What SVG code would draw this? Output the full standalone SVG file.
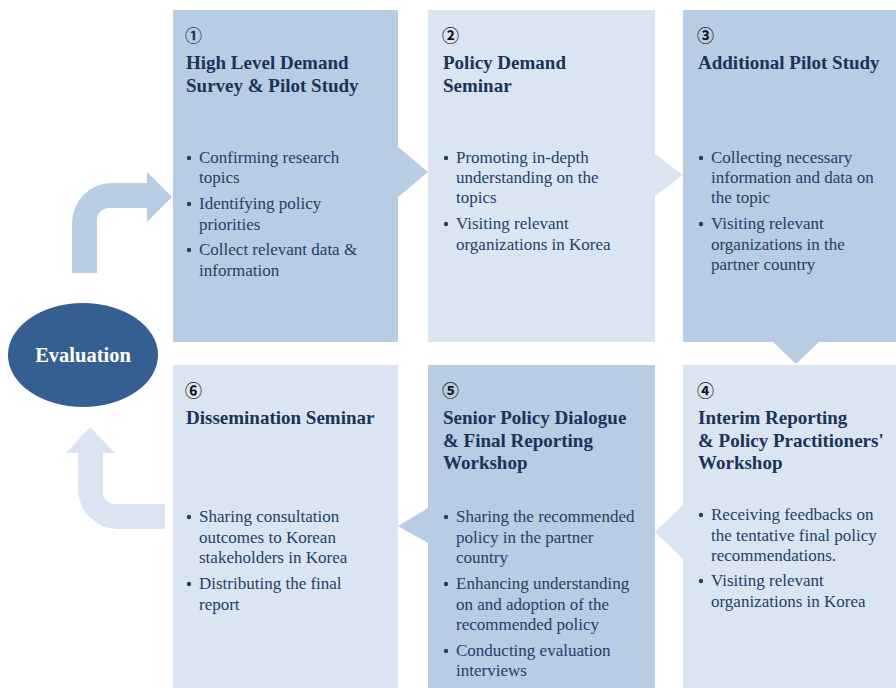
<svg xmlns="http://www.w3.org/2000/svg" width="896" height="688" viewBox="0 0 896 688">
<defs>
<style>
.dark{fill:#b8cce4}
.light{fill:#dbe5f1}
.num{font-family:"Noto Sans CJK KR","Noto Sans CJK JP",sans-serif;font-size:17px;font-weight:bold;fill:#111}
.title{font-family:"Liberation Serif",serif;font-size:19px;font-weight:bold;fill:#1b3356}
.body{font-family:"Liberation Serif",serif;font-size:17px;fill:#243f66}
.bul{fill:#243f66}
.eval{font-family:"Liberation Serif",serif;font-size:20.5px;font-weight:bold;fill:#ffffff}
</style>
</defs>
<rect width="896" height="688" fill="#ffffff"/>
<g id="connectors">
<path class="dark" d="M72,273 V223 A40,40 0 0 1 112,183 H147 V172 L172,197 L147,222 V208 H109 A12,12 0 0 0 97,220 V273 Z"/>
<path class="light" d="M90,427 L115,453 H103 V492 A12,12 0 0 0 115,504 H165 V529 H118 A40,40 0 0 1 78,489 V453 H66 Z"/>
<polygon class="dark" points="397,146 428,172 397,198"/>
<polygon class="light" points="655,154 683,175 655,196"/>
<polygon class="dark" points="773,342 796,364 819,342"/>
<polygon class="light" points="683,505 655,532 683,559"/>
<polygon class="dark" points="428,508 398,526 428,543"/>
</g>
<g id="evaluation">
<ellipse cx="83" cy="355" rx="75" ry="52" fill="#365f91"/>
<text class="eval" x="83" y="362" text-anchor="middle">Evaluation</text>
</g>
<g id="step1">
<rect class="dark" x="173" y="10" width="225" height="332"/>
<text class="num" x="185" y="42" style="fill:#1b3356">①</text>
<text class="title" x="186" y="69">High Level Demand</text>
<text class="title" x="186" y="92">Survey &amp; Pilot Study</text>
<circle class="bul" cx="189" cy="158" r="2.2"/>
<text class="body" x="199" y="163">Confirming research</text>
<text class="body" x="199" y="183">topics</text>
<circle class="bul" cx="189" cy="204" r="2.2"/>
<text class="body" x="199" y="209">Identifying policy</text>
<text class="body" x="199" y="230">priorities</text>
<circle class="bul" cx="189" cy="250" r="2.2"/>
<text class="body" x="199" y="255">Collect relevant data &amp;</text>
<text class="body" x="199" y="276">information</text>
</g>
<g id="step2">
<rect class="light" x="428" y="10" width="227" height="332"/>
<text class="num" x="442" y="42">②</text>
<text class="title" x="443" y="69">Policy Demand</text>
<text class="title" x="443" y="92">Seminar</text>
<circle class="bul" cx="446" cy="158" r="2.2"/>
<text class="body" x="456" y="163">Promoting in-depth</text>
<text class="body" x="456" y="183">understanding on the</text>
<text class="body" x="456" y="203">topics</text>
<circle class="bul" cx="446" cy="224" r="2.2"/>
<text class="body" x="456" y="229">Visiting relevant</text>
<text class="body" x="456" y="250">organizations in Korea</text>
</g>
<g id="step3">
<rect class="dark" x="683" y="10" width="213" height="332"/>
<text class="num" x="697" y="42">③</text>
<text class="title" x="698" y="69">Additional Pilot Study</text>
<circle class="bul" cx="701" cy="158" r="2.2"/>
<text class="body" x="711" y="163">Collecting necessary</text>
<text class="body" x="711" y="183">information and data on</text>
<text class="body" x="711" y="203">the topic</text>
<circle class="bul" cx="701" cy="224" r="2.2"/>
<text class="body" x="711" y="229">Visiting relevant</text>
<text class="body" x="711" y="250">organizations in the</text>
<text class="body" x="711" y="270">partner country</text>
</g>
<g id="step4">
<rect class="light" x="683" y="365" width="213" height="323"/>
<text class="num" x="697" y="397">④</text>
<text class="title" x="698" y="424">Interim Reporting</text>
<text class="title" x="698" y="447">&amp; Policy Practitioners'</text>
<text class="title" x="698" y="469">Workshop</text>
<circle class="bul" cx="701" cy="515" r="2.2"/>
<text class="body" x="711" y="520">Receiving feedbacks on</text>
<text class="body" x="711" y="541">the tentative final policy</text>
<text class="body" x="711" y="561">recommendations.</text>
<circle class="bul" cx="701" cy="581" r="2.2"/>
<text class="body" x="711" y="586">Visiting relevant</text>
<text class="body" x="711" y="607">organizations in Korea</text>
</g>
<g id="step5">
<rect class="dark" x="428" y="365" width="227" height="323"/>
<text class="num" x="442" y="397">⑤</text>
<text class="title" x="443" y="424">Senior Policy Dialogue</text>
<text class="title" x="443" y="447">&amp; Final Reporting</text>
<text class="title" x="443" y="469">Workshop</text>
<circle class="bul" cx="446" cy="517" r="2.2"/>
<text class="body" x="456" y="522">Sharing the recommended</text>
<text class="body" x="456" y="543">policy in the partner</text>
<text class="body" x="456" y="563">country</text>
<circle class="bul" cx="446" cy="584" r="2.2"/>
<text class="body" x="456" y="589">Enhancing understanding</text>
<text class="body" x="456" y="610">on and adoption of the</text>
<text class="body" x="456" y="630">recommended policy</text>
<circle class="bul" cx="446" cy="651" r="2.2"/>
<text class="body" x="456" y="656">Conducting evaluation</text>
<text class="body" x="456" y="676">interviews</text>
</g>
<g id="step6">
<rect class="light" x="173" y="365" width="225" height="323"/>
<text class="num" x="185" y="397">⑥</text>
<text class="title" x="186" y="424">Dissemination Seminar</text>
<circle class="bul" cx="189" cy="517" r="2.2"/>
<text class="body" x="199" y="522">Sharing consultation</text>
<text class="body" x="199" y="543">outcomes to Korean</text>
<text class="body" x="199" y="563">stakeholders in Korea</text>
<circle class="bul" cx="189" cy="584" r="2.2"/>
<text class="body" x="199" y="589">Distributing the final</text>
<text class="body" x="199" y="610">report</text>
</g>
</svg>
